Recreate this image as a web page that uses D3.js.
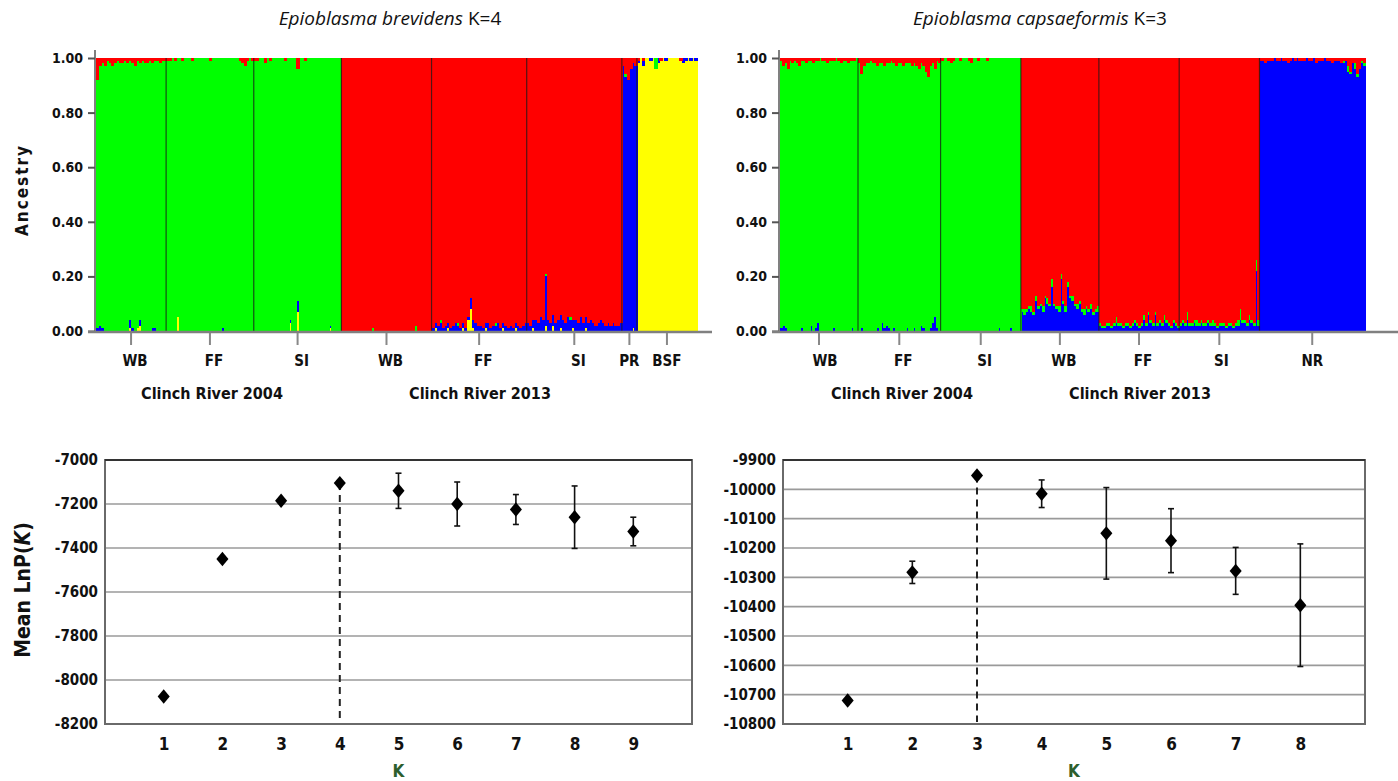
<!DOCTYPE html>
<html>
<head>
<meta charset="utf-8">
<script src="https://cdn.jsdelivr.net/npm/d3@7"></script>
<style>
  body { margin: 0; background: #fff; }
  svg { display: block; }
  text { font-family: "Liberation Sans Narrow", "DejaVu Sans Condensed", "Liberation Sans", sans-serif; font-weight: bold; fill: #111; }
  .ttl { font-family: "Open Sans", Lato, sans-serif; font-weight: normal; fill: #111; }
</style>
</head>
<body>
<svg id="fig" width="1398" height="781"></svg>
<script>
// ---------------- data ----------------
// E. brevidens, STRUCTURE K=4 (values in % per individual)
const brevGroups = ["WB", "FF", "SI", "WB", "FF", "SI", "PR", "BSF"];
const brevMain = ["green", "green", "green", "red", "red", "red", "blue", "yellow"];
const brevCounts = [28, 35, 35, 36, 38, 38, 6, 24];
const brevRed = [
  [8,3,2,3,1,2,3,2,1,2,2,1,2,1,2,3,1,2,1,2,2,1,2,1,1,2,1,1],
  [1,1,0,1,0,0,1,0,0,0,1,0,0,0,0,0,0,1,0,0,0,0,0,0,0,0,0,0,0,1,2,3,1,0,1],
  [1,1,0,0,2,0,1,0,0,0,0,0,1,0,0,0,0,4,0,0,1,0,0,0,0,0,0,0,0,0,0,0,0,0,0],
  [], [], [],
  [3,6,8,4,2,3],
  [1,0,1,0,0,0,0,0,0,1,0,0,0,0,0,0,0,1,0,0,0,0,0,0]
];
const brevBlue = [
  [1,2,1,0,0,0,0,0,0,0,0,0,0,3,1,0,0,2,0,0,0,0,1,1,0,0,0,0],
  [0,0,0,0,0,0,0,0,0,0,0,0,0,0,0,0,0,0,0,0,0,0,1,0,0,0,0,0,0,0,0,0,0,0,0],
  [0,0,0,0,0,0,0,0,0,0,0,0,0,0,1,0,0,4,0,0,0,0,0,0,0,0,0,0,0,0,1,0,0,0,0],
  [0,0,0,0,0,0,0,0,0,0,0,0,0,0,0,0,0,0,0,0,0,0,0,0,0,0,0,0,0,0,0,0,0,0,0,0],
  [1,2,2,3,1,2,2,1,2,3,2,1,2,1,1,4,3,3,2,2,1,2,3,1,2,2,3,1,2,2,1,2,1,2,2,1,2,3],
  [3,2,3,4,3,5,4,18,4,3,4,3,4,5,4,3,5,4,3,4,3,5,3,4,3,4,3,2,3,4,3,2,3,2,3,2,2,3],
  [],
  [1,0,2,0,0,1,0,0,2,0,0,1,0,0,0,0,0,0,2,1,0,1,0,1]
];
const brevYellow = [
  [0,0,0,0,0,0,0,0,0,0,0,0,0,1,0,0,1,2,0,0,0,0,0,0,0,0,0,0],
  [0,0,0,0,5,0,0,0,0,0,0,0,0,0,0,0,0,0,0,0,0,0,0,0,0,0,0,0,0,0,0,0,0,0,0],
  [0,0,0,0,0,0,0,0,0,0,0,0,0,0,3,0,0,7,0,0,0,0,0,0,0,0,0,0,0,0,1,0,0,0,0],
  [0,0,0,0,0,0,0,0,0,0,0,0,0,0,0,0,0,0,0,0,0,0,0,0,0,0,0,0,0,0,0,0,0,0,0,0],
  [0,1,0,0,0,0,1,0,0,0,0,0,1,0,4,8,1,0,0,0,0,1,0,0,0,0,0,0,1,0,0,0,0,1,0,0,0,0],
  [0,0,1,0,0,0,0,2,0,0,2,0,0,1,0,0,0,0,1,0,0,0,0,1,0,0,0,0,0,0,0,0,0,0,0,0,0,0],
  [0,0,0,0,1,0],
  []
];
const brevGreen = [
  [], [], [],
  [0,0,0,0,0,0,0,0,0,0,0,0,1,0,0,0,0,0,0,0,0,0,0,0,0,0,0,0,0,2,0,0,0,0,0,0],
  [0,0,0,1,0,0,0,0,0,0,1,0,0,0,0,0,0,0,0,0,0,0,0,0,0,1,0,0,0,0,0,0,0,0,0,0,0,0],
  [0,0,0,0,0,0,0,1,0,0,0,0,0,0,0,0,0,1,0,0,0,0,0,0,0,0,0,0,0,0,0,0,0,0,0,0,0,0],
  [0,1,0,0,0,0],
  [0,0,0,0,0,0,0,4,0,0,0,0,0,0,0,0,0,0,0,0,0,0,0,0]
];

// E. capsaeformis, STRUCTURE K=3
const capsGroups = ["WB", "FF", "SI", "WB", "FF", "SI", "NR"];
const capsMain = ["green", "green", "green", "red", "red", "red", "blue"];
const capsCounts = [34, 36, 35, 34, 35, 35, 46];
const capsRed = [
  [1,3,2,4,1,2,1,2,3,1,1,2,1,1,2,1,1,0,1,1,2,1,1,1,0,1,2,1,1,2,1,1,1,0],
  [2,6,3,2,2,1,2,2,3,2,2,3,2,2,1,2,3,2,2,3,2,2,2,3,2,3,4,2,3,5,7,3,2,4,1,2],
  [1,0,0,1,2,1,0,0,1,0,0,0,1,2,0,0,1,0,0,0,1,0,0,0,0,0,0,0,0,0,0,0,0,0,0],
  [], [], [],
  [1,1,2,1,1,1,0,1,1,0,1,1,2,1,0,1,0,1,1,1,0,1,1,0,2,1,1,1,0,1,1,2,1,1,1,2,1,1,3,5,2,2,6,4,1,2]
];
const capsBlue = [
  [1,2,1,0,0,0,0,0,0,1,0,0,0,2,0,1,3,0,0,0,0,0,0,1,0,0,0,0,0,0,0,1,0,0],
  [0,1,0,0,0,0,0,0,1,0,3,1,2,1,0,1,0,0,0,0,0,1,0,0,1,0,0,2,1,0,0,1,3,5,1,0],
  [0,0,0,0,0,0,0,0,0,0,0,0,0,0,0,0,0,0,0,0,0,0,0,0,0,1,0,0,0,0,1,0,0,0,0],
  [7,6,7,8,7,6,11,8,9,7,12,10,9,16,9,8,7,19,10,7,16,12,11,9,8,10,7,6,8,7,8,6,7,7],
  [2,1,1,2,2,1,2,3,2,2,1,2,2,1,2,3,2,1,2,4,2,6,3,2,6,2,3,2,4,3,2,1,3,2,1],
  [2,3,2,4,2,2,3,2,2,3,2,2,3,2,2,2,1,2,2,2,1,2,2,1,2,2,4,3,3,2,4,3,2,22,2],
  []
];
const capsGreen = [
  [], [], [],
  [1,2,1,1,2,1,2,1,1,2,1,2,1,3,1,1,2,2,1,2,2,1,2,1,2,1,1,2,1,1,2,1,1,2],
  [1,1,1,1,1,1,1,2,1,1,1,1,1,1,1,1,1,1,1,2,1,1,1,1,1,1,1,1,2,1,1,1,1,1,1],
  [1,1,1,3,1,1,1,2,1,1,1,1,1,1,2,1,1,1,1,1,1,1,1,1,1,2,4,1,1,1,2,1,1,4,2],
  [0,0,0,0,0,0,0,0,0,0,0,0,0,0,0,0,0,0,0,0,0,0,0,0,0,0,0,0,0,0,0,0,0,0,0,0,1,0,2,1,0,2,1,0,1,1]
];

const ancestryTicks = [0, 0.2, 0.4, 0.6, 0.8, 1.0];

// mean LnP(K) +/- SD
const brevK = [1, 2, 3, 4, 5, 6, 7, 8, 9];
const brevLnP = [-8075, -7450, -7185, -7105, -7140, -7200, -7225, -7260, -7325];
const brevSD = [0, 0, 0, 0, 80, 100, 68, 142, 65];
const brevTicks = [-7000, -7200, -7400, -7600, -7800, -8000, -8200];

const capsK = [1, 2, 3, 4, 5, 6, 7, 8];
const capsLnP = [-10720, -10283, -9953, -10015, -10150, -10175, -10278, -10395];
const capsSD = [0, 38, 0, 47, 156, 109, 80, 209];
const capsTicks = [-9900, -10000, -10100, -10200, -10300, -10400, -10500, -10600, -10700, -10800];

const clusterColor = { green: "#00ff00", red: "#ff0000", blue: "#0000ff", yellow: "#ffff00" };

const svg = d3.select("#fig");

// ---------------- structure bar plot ----------------
function structurePanel(o) {
  const g = svg.append("g");
  const inds = [];
  o.counts.forEach((n, gi) => {
    for (let i = 0; i < n; i++) {
      const d = { group: gi };
      let other = 0;
      o.keys.forEach(k => {
        if (k === o.main[gi]) return;
        const arr = o.minor[k][gi] || [];
        d[k] = (arr[i] || 0) / 100;
        other += d[k];
      });
      d[o.main[gi]] = 1 - other;
      inds.push(d);
    }
  });

  const x = d3.scaleLinear().domain([0, inds.length]).range([o.x0, o.x1]);
  const y = d3.scaleLinear().domain([0, 1]).range([o.yBot, o.yTop]);
  const series = d3.stack().keys(o.keys)(inds);

  g.selectAll("g.layer").data(series).join("g")
    .attr("class", "layer")
    .attr("fill", s => clusterColor[s.key])
    .selectAll("rect").data(s => s).join("rect")
    .attr("shape-rendering", "crispEdges")
    .attr("x", (d, i) => x(i))
    .attr("width", (d, i) => x(i + 1) - x(i) + 0.7)
    .attr("y", d => y(d[1]))
    .attr("height", d => Math.max(0, y(d[0]) - y(d[1])));

  // group borders and centres
  const starts = d3.cumsum([0].concat(o.counts));
  g.selectAll("line.div").data(starts.slice(1, -1)).join("line")
    .attr("x1", d => x(d)).attr("x2", d => x(d))
    .attr("y1", y(1)).attr("y2", y(0))
    .attr("stroke", "#1a1a1a").attr("stroke-opacity", 0.75).attr("stroke-width", 1.2);

  // y axis
  const ya = g.append("g").attr("transform", `translate(${o.x0 - 1},0)`)
    .call(d3.axisLeft(y).tickValues(ancestryTicks).tickFormat(d3.format(".2f")).tickSize(7).tickPadding(5));
  ya.select(".domain").attr("stroke", "#808080").attr("stroke-width", 2)
    .attr("d", `M0,${o.yTop - 8}V${o.yBot}`);
  ya.selectAll(".tick line").attr("stroke", "#555").attr("stroke-width", 2);
  ya.selectAll(".tick text").attr("font-size", 14).attr("fill", "#111");
  ya.attr("font-family", null);

  // x axis
  g.append("line").attr("x1", o.x0 - 8).attr("x2", o.axisEnd)
    .attr("y1", o.yBot + 1).attr("y2", o.yBot + 1)
    .attr("stroke", "#808080").attr("stroke-width", 2.5);
  const centres = o.counts.map((n, i) => x(starts[i] + n / 2));
  g.selectAll("line.xt").data(centres).join("line")
    .attr("x1", d => d).attr("x2", d => d)
    .attr("y1", o.yBot + 2).attr("y2", o.yBot + 14)
    .attr("stroke", "#888").attr("stroke-width", 2);
  g.selectAll("text.grp").data(o.groups).join("text")
    .attr("x", (d, i) => centres[i] + (o.labelShift[i] || 0)).attr("y", o.yBot + 35)
    .attr("text-anchor", "middle").attr("font-size", 15)
    .text(d => d);

  o.rivers.forEach(r => {
    g.append("text").attr("x", r.x).attr("y", o.yBot + 68)
      .attr("text-anchor", "middle").attr("font-size", 16).text(r.label);
  });

  const t = g.append("text").attr("class", "ttl").attr("x", o.titleX).attr("y", 25)
    .attr("text-anchor", "middle").attr("font-size", 19);
  t.append("tspan").attr("font-style", "italic").text(o.species);
  t.append("tspan").text(" " + o.k);
}

structurePanel({
  x0: 96, x1: 697, yTop: 58, yBot: 331, axisEnd: 712,
  groups: brevGroups, main: brevMain, counts: brevCounts,
  keys: ["yellow", "blue", "green", "red"],
  minor: { red: brevRed, blue: brevBlue, yellow: brevYellow, green: brevGreen },
  labelShift: [4, 4, 4, 4, 4, 4, 0, 0],
  rivers: [{ x: 212, label: "Clinch River 2004" }, { x: 480, label: "Clinch River 2013" }],
  titleX: 390, species: "Epioblasma brevidens", k: "K=4"
});

structurePanel({
  x0: 780, x1: 1365, yTop: 58, yBot: 331, axisEnd: 1398,
  groups: capsGroups, main: capsMain, counts: capsCounts,
  keys: ["blue", "green", "red"],
  minor: { red: capsRed, blue: capsBlue, green: capsGreen },
  labelShift: [6, 4, 4, 4, 4, 2, 0],
  rivers: [{ x: 902, label: "Clinch River 2004" }, { x: 1140, label: "Clinch River 2013" }],
  titleX: 1040, species: "Epioblasma capsaeformis", k: "K=3"
});

// Ancestry label
svg.append("text").attr("transform", "translate(28,190) rotate(-90)")
  .attr("text-anchor", "middle").attr("font-size", 17)
  .attr("font-family", "Liberation Sans, sans-serif").attr("letter-spacing", 2)
  .text("Ancestry");

// ---------------- mean LnP(K) plots ----------------
function lnpPanel(o) {
  const g = svg.append("g");
  const x = d3.scaleLinear().domain([0, o.ks.length + 1]).range([o.x0, o.x1]);
  const y = d3.scaleLinear().domain([o.ticks[o.ticks.length - 1], o.ticks[0]]).range([o.yBot, o.yTop]);

  g.selectAll("line.grid").data(o.ticks).join("line")
    .attr("x1", o.x0).attr("x2", o.x1)
    .attr("y1", d => y(d)).attr("y2", d => y(d))
    .attr("stroke", "#9a9a9a").attr("stroke-width", 1.6);
  g.append("rect").attr("x", o.x0).attr("y", o.yTop)
    .attr("width", o.x1 - o.x0).attr("height", o.yBot - o.yTop)
    .attr("fill", "none").attr("stroke", "#6a6a6a").attr("stroke-width", 2);
  g.append("line").attr("x1", o.x0).attr("x2", o.x1)
    .attr("y1", o.yTop).attr("y2", o.yTop)
    .attr("stroke", "#333").attr("stroke-width", 2);

  const ya = g.append("g").attr("transform", `translate(${o.x0},0)`)
    .call(d3.axisLeft(y).tickValues(o.ticks).tickFormat(d3.format("d")).tickSize(0).tickPadding(7));
  ya.select(".domain").remove();
  ya.selectAll(".tick text").attr("font-size", 15).attr("fill", "#111")
    .text(d => "-" + Math.abs(d));
  ya.attr("font-family", null);

  const xa = g.append("g").attr("transform", `translate(0,${o.yBot})`)
    .call(d3.axisBottom(x).tickValues(o.ks).tickFormat(d3.format("d")).tickSize(0).tickPadding(14));
  xa.select(".domain").remove();
  xa.selectAll(".tick text").attr("font-size", 17).attr("fill", "#111");
  xa.attr("font-family", null);

  // best K marker line
  const bi = o.ks.indexOf(o.best);
  g.append("line").attr("x1", x(o.best)).attr("x2", x(o.best))
    .attr("y1", y(o.means[bi])).attr("y2", o.yBot - 2)
    .attr("stroke", "#222").attr("stroke-width", 2).attr("stroke-dasharray", "7,5");

  const pts = o.ks.map((k, i) => ({ k, m: o.means[i], s: o.sds[i] }));
  const eb = g.selectAll("g.eb").data(pts.filter(d => d.s > 0)).join("g").attr("class", "eb")
    .attr("stroke", "#111").attr("stroke-width", 1.6);
  eb.append("line").attr("x1", d => x(d.k)).attr("x2", d => x(d.k))
    .attr("y1", d => y(d.m + d.s)).attr("y2", d => y(d.m - d.s));
  eb.append("line").attr("x1", d => x(d.k) - 3).attr("x2", d => x(d.k) + 3)
    .attr("y1", d => y(d.m + d.s)).attr("y2", d => y(d.m + d.s));
  eb.append("line").attr("x1", d => x(d.k) - 3).attr("x2", d => x(d.k) + 3)
    .attr("y1", d => y(d.m - d.s)).attr("y2", d => y(d.m - d.s));

  g.selectAll("path.pt").data(pts).join("path")
    .attr("d", d3.symbol(d3.symbolDiamond, 60))
    .attr("transform", d => `translate(${x(d.k)},${y(d.m)}) scale(1.45,1)`)
    .attr("fill", "#000");

  g.append("text").attr("x", (o.x0 + o.x1) / 2).attr("y", 777)
    .attr("text-anchor", "middle").attr("font-size", 17)
    .style("fill", "#2d5e2d").text("K");
}

lnpPanel({
  x0: 105, x1: 692, yTop: 460, yBot: 724,
  ks: brevK, means: brevLnP, sds: brevSD, ticks: brevTicks, best: 4
});
lnpPanel({
  x0: 783, x1: 1365, yTop: 460, yBot: 724,
  ks: capsK, means: capsLnP, sds: capsSD, ticks: capsTicks, best: 3
});

const yl = svg.append("text").attr("transform", "translate(30,590) rotate(-90)")
  .attr("text-anchor", "middle").attr("font-size", 21)
  .attr("font-family", "Liberation Sans, sans-serif");
yl.append("tspan").text("Mean LnP(");
yl.append("tspan").attr("font-style", "italic").text("K");
yl.append("tspan").text(")");
</script>
</body>
</html>
